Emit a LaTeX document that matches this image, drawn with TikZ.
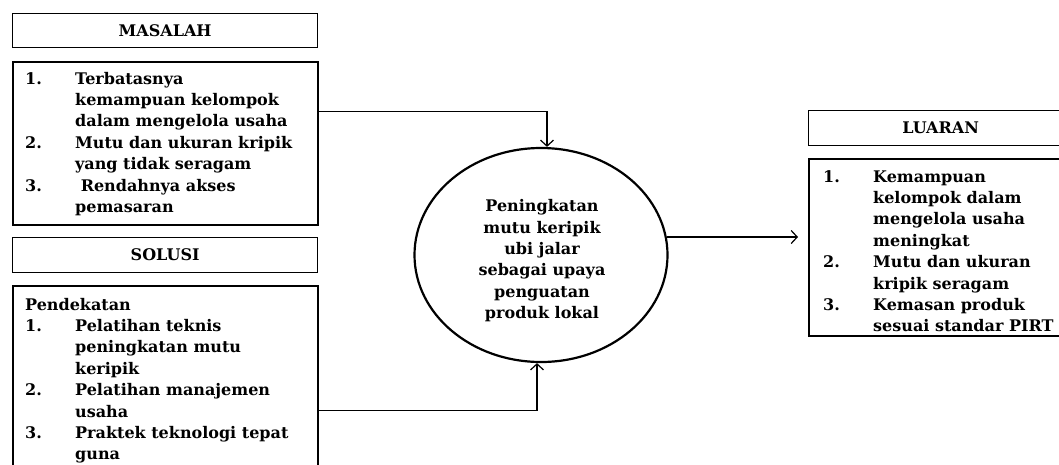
\documentclass[tikz,border=0pt]{standalone}
\usepackage{fontspec}
\setmainfont{DejaVu Serif}
\usetikzlibrary{arrows.meta,shapes.geometric}

\begin{document}
\begin{tikzpicture}
    [x=1pt,y=-1pt,
 every node/.style ={font=\fontsize{16pt}{21.4pt}\selectfont\bfseries},
 titlebox/.style ={rectangle, draw=black, line width=1.3pt, minimum height=34pt, anchor=north west, inner sep=0pt},
 listbox/.style ={rectangle, draw=black, line width=1.5pt, anchor=north west, inner sep=0pt},
 listtext/.style ={anchor=base west, inner sep=0pt},
 line/.style ={draw, line width=1.2pt, -{Straight Barb[length=6pt,width=13pt]}},
 bubble/.style ={ellipse, draw=black, line width=2.2pt, minimum width=253pt, minimum height=214pt, inner sep=0pt}]
        \useasboundingbox (0,0) rectangle (1059,464);
        % kiri: masalah
        \node[titlebox, minimum width=305pt] (masalah) at (12,13) {MASALAH};
        \node[listbox, line width=2.4pt, minimum width=305pt, minimum height=163pt] (mbox) at (12,61) {};
        \node[listtext] (mtext) at (25,84) {\begin{tabular}[t]{@{}p{50pt}@{}l@{}}
            1. & Terbatasnya\\ & kemampuan kelompok\\ & dalam mengelola usaha\\
            2. & Mutu dan ukuran kripik\\ & yang tidak seragam\\
            3. & \ Rendahnya akses\\ & pemasaran
        \end{tabular}};
        % kiri: solusi
        \node[titlebox, minimum width=305pt, minimum height=35pt] (solusi) at (12,237) {SOLUSI};
        \node[listbox, minimum width=305pt, minimum height=200pt] (sbox) at (12,285) {};
        \node[listtext] (stext) at (25,310) {\begin{tabular}[t]{@{}p{50pt}@{}l@{}}
            \multicolumn{2}{@{}l@{}}{Pendekatan}\\
            1. & Pelatihan teknis\\ & peningkatan mutu\\ & keripik\\
            2. & Pelatihan manajemen\\ & usaha\\
            3. & Praktek teknologi tepat\\ & guna
        \end{tabular}};
        % tengah
        \node[bubble] (circ) at (541,255) {};
        \node[align=center, inner sep=0pt] (ctext) at (542,261) {\begin{tabular}{@{}c@{}}
            Peningkatan\\mutu keripik\\ubi jalar\\sebagai upaya\\penguatan\\produk lokal
        \end{tabular}};
        % kanan: luaran
        \node[titlebox, minimum width=264pt, minimum height=35pt] (luaran) at (808,110) {LUARAN};
        \node[listbox, minimum width=264pt, minimum height=177pt] (lbox) at (808,158) {};
        \node[listtext] (ltext) at (823,182) {\begin{tabular}[t]{@{}p{50pt}@{}l@{}}
            1. & Kemampuan\\ & kelompok dalam\\ & mengelola usaha\\ & meningkat\\
            2. & Mutu dan ukuran\\ & kripik seragam\\
            3. & Kemasan produk\\ & sesuai standar PIRT
        \end{tabular}};
        % panah
        \draw[line] ([yshift=32.5pt]mbox.east) -| ([xshift=6pt]circ.north);
        \draw[line] ([yshift=-25pt]sbox.east) -| ([xshift=-4pt]circ.south);
        \coordinate (rin) at ([xshift=-2pt,yshift=18pt]circ.east);
        \draw[line, shorten >=10pt] (rin) -- (rin -| lbox.west);
    \end{tikzpicture}
\end{document}
